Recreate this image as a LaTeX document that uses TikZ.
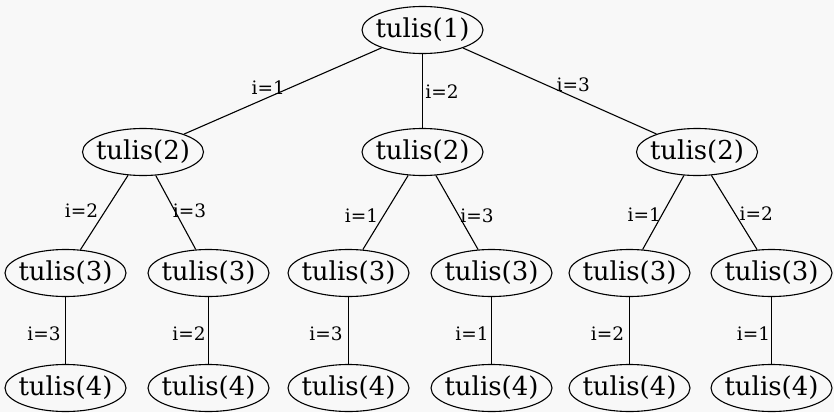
\documentclass[tikz,border=0pt]{standalone}
\usepackage{fontspec}
\setmainfont{DejaVu Serif}
\usetikzlibrary{shapes.geometric}
\definecolor{bgcol}{RGB}{248,248,248}
\newcommand{\tulisbox}[1]{\makebox[0pt]{#1}}
\begin{document}
\begin{tikzpicture}[x=1pt,y=-1pt,
  tn/.style={draw, ellipse, line width=1.1pt, minimum width=121pt, minimum height=47pt,
    inner sep=0pt, font=\fontsize{26}{28}\selectfont},
  edge/.style={line width=1.1pt},
  lbl/.style={font=\fontsize{18.5}{20}\selectfont, inner sep=0pt}]
\fill[bgcol] (0,0) rectangle (834,412);
\useasboundingbox (0,0) rectangle (834,412);
% nodes
\node[tn] (r)  at (422.5,30)  {\tulisbox{tulis(1)}};
\node[tn] (a)  at (143,152) {\tulisbox{tulis(2)}};
\node[tn] (b)  at (422.5,152) {\tulisbox{tulis(2)}};
\node[tn] (c)  at (697,152) {\tulisbox{tulis(2)}};
\node[tn] (a1) at (65.5,273) {\tulisbox{tulis(3)}};
\node[tn] (a2) at (208.5,273) {\tulisbox{tulis(3)}};
\node[tn] (b1) at (348.5,273) {\tulisbox{tulis(3)}};
\node[tn] (b2) at (491.5,273) {\tulisbox{tulis(3)}};
\node[tn] (c1) at (629.5,273) {\tulisbox{tulis(3)}};
\node[tn] (c2) at (771.5,273) {\tulisbox{tulis(3)}};
\node[tn] (a1x) at (65.5,388) {\tulisbox{tulis(4)}};
\node[tn] (a2x) at (208.5,388) {\tulisbox{tulis(4)}};
\node[tn] (b1x) at (348.5,388) {\tulisbox{tulis(4)}};
\node[tn] (b2x) at (491.5,388) {\tulisbox{tulis(4)}};
\node[tn] (c1x) at (629.5,388) {\tulisbox{tulis(4)}};
\node[tn] (c2x) at (771.5,388) {\tulisbox{tulis(4)}};
% edges
\draw[edge] (r) -- node[lbl, xshift=-14.5pt, yshift=3pt] {i=1} (a);
\draw[edge] (r) -- node[lbl, xshift=19.5pt, yshift=-1pt] {i=2} (b);
\draw[edge] (r) -- node[lbl, xshift=13.5pt, yshift=6pt] {i=3} (c);
\draw[edge] (a) -- node[lbl, xshift=-22.75pt, yshift=2pt] {i=2} (a1);
\draw[edge] (a) -- node[lbl, xshift=13.75pt, yshift=2pt] {i=3} (a2);
\draw[edge] (b) -- node[lbl, xshift=-24pt, yshift=-3.5pt] {i=1} (b1);
\draw[edge] (b) -- node[lbl, xshift=20pt, yshift=-3.5pt] {i=3} (b2);
\draw[edge] (c) -- node[lbl, xshift=-19pt, yshift=-2pt] {i=1} (c1);
\draw[edge] (c) -- node[lbl, xshift=22pt, yshift=-1.5pt] {i=2} (c2);
\draw[edge] (a1) -- node[lbl, xshift=-21.5pt, yshift=-3pt] {i=3} (a1x);
\draw[edge] (a2) -- node[lbl, xshift=-19.5pt, yshift=-3pt] {i=2} (a2x);
\draw[edge] (b1) -- node[lbl, xshift=-22.5pt, yshift=-3pt] {i=3} (b1x);
\draw[edge] (b2) -- node[lbl, xshift=-19.5pt, yshift=-3pt] {i=1} (b2x);
\draw[edge] (c1) -- node[lbl, xshift=-22pt, yshift=-3pt] {i=2} (c1x);
\draw[edge] (c2) -- node[lbl, xshift=-18pt, yshift=-3pt] {i=1} (c2x);
\end{tikzpicture}
\end{document}
